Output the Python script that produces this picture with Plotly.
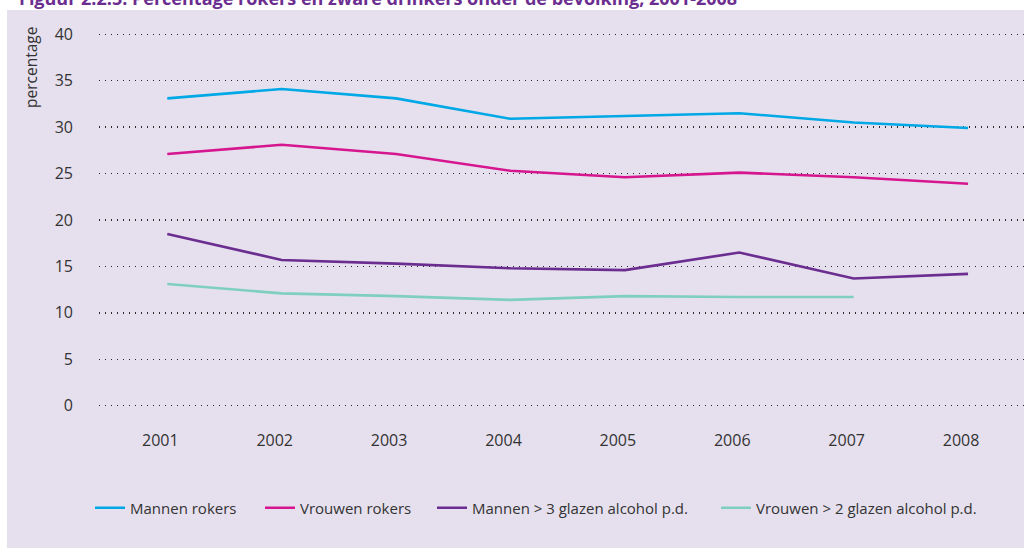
import plotly.graph_objects as go

# ---- data ----
years = [2001, 2002, 2003, 2004, 2005, 2006, 2007, 2008]
mannen_rokers = [33.1, 34.1, 33.1, 30.9, 31.2, 31.5, 30.5, 29.9]
vrouwen_rokers = [27.1, 28.1, 27.1, 25.3, 24.6, 25.1, 24.6, 23.9]
mannen_alcohol = [18.5, 15.7, 15.3, 14.8, 14.6, 16.5, 13.7, 14.2]
vrouwen_alcohol = [13.1, 12.1, 11.8, 11.4, 11.8, 11.7, 11.7, None]
y_ticks = [0, 5, 10, 15, 20, 25, 30, 35, 40]
series_names = ["Mannen rokers", "Vrouwen rokers",
                "Mannen > 3 glazen alcohol p.d.", "Vrouwen > 2 glazen alcohol p.d."]
title_text = "Figuur 2.2.5: Percentage rokers en zware drinkers onder de bevolking, 2001-2008"

# ---- style ----
BG = "#e6e0ee"
TXT = "#333333"
FONT = "Open Sans"
colors = ["#00a8e6", "#d6168f", "#6b2d90", "#7fcfbf"]
legend_ids = ["legend", "legend2", "legend3", "legend4"]

W, H = 1024, 548
L, R, T, B = 99, 0, 25, 133
pw, ph = W - L - R, H - T - B


def px_x(p):
    return (p - L) / pw


def px_y(p):
    return (H - B - p) / ph


fig = go.Figure()
for vals, name, col, lg in zip([mannen_rokers, vrouwen_rokers, mannen_alcohol, vrouwen_alcohol],
                               series_names, colors, legend_ids):
    fig.add_trace(go.Scatter(x=years, y=vals, name=name, mode="lines",
                             line=dict(color=col, width=2.6),
                             legend=lg, hoverinfo="skip"))

legend_x_px = [90, 260, 432, 716]
legend_common = dict(bgcolor="rgba(0,0,0,0)", font=dict(family=FONT, size=15, color=TXT),
                     xanchor="left", yanchor="middle", orientation="h",
                     y=px_y(508), borderwidth=0)
legends = {}
for lg, xp in zip(legend_ids, legend_x_px):
    legends[lg] = dict(legend_common, x=px_x(xp))

fig.update_layout(
    width=W, height=H, autosize=False,
    margin=dict(l=L, r=R, t=T, b=B, pad=0),
    paper_bgcolor=BG, plot_bgcolor=BG,
    font=dict(family=FONT, color=TXT, size=15),
    showlegend=True,
    xaxis=dict(range=[2000.403, 2008.489], tickmode="array", tickvals=years,
               ticktext=[str(y) for y in years],
               showgrid=False, zeroline=False, showline=False, ticks="",
               tickfont=dict(family=FONT, size=16, color=TXT),
               ticklabelstandoff=23 - 9, ticklabelshift=-7, fixedrange=True),
    yaxis=dict(range=[-1, 41], tickmode="array", tickvals=y_ticks,
               showgrid=True, gridcolor="#2a2a2a", gridwidth=1.3, griddash="1.4px,4.6px",
               zeroline=False, showline=False, ticks="",
               tickfont=dict(family=FONT, size=16, color=TXT),
               ticklabelstandoff=25, fixedrange=True),
    **legends,
)

# white margins around the lavender panel
fig.add_shape(type="rect", xref="paper", yref="paper", x0=-0.2, x1=1.2,
              y0=px_y(10), y1=px_y(-30), fillcolor="white", line_width=0, layer="below")
fig.add_shape(type="rect", xref="paper", yref="paper", x0=px_x(-30), x1=px_x(7),
              y0=px_y(600), y1=px_y(-30), fillcolor="white", line_width=0, layer="below")

# (cut-off) figure title
fig.add_annotation(text="<b>" + title_text + "</b>", xref="paper", yref="paper",
                   x=px_x(17), y=px_y(-2), xanchor="left", yanchor="middle",
                   showarrow=False, font=dict(family=FONT, size=18, color="#6b2d90"))

# y-axis title
fig.add_annotation(text="percentage", xref="paper", yref="paper",
                   x=px_x(31), y=px_y(68), xanchor="center", yanchor="middle",
                   textangle=-90, showarrow=False,
                   font=dict(family=FONT, size=15.5, color=TXT))

fig.write_html("out.html", config={"displayModeBar": False, "staticPlot": True},
               post_script="document.body.style.margin='0px';document.body.style.overflow='hidden';")
